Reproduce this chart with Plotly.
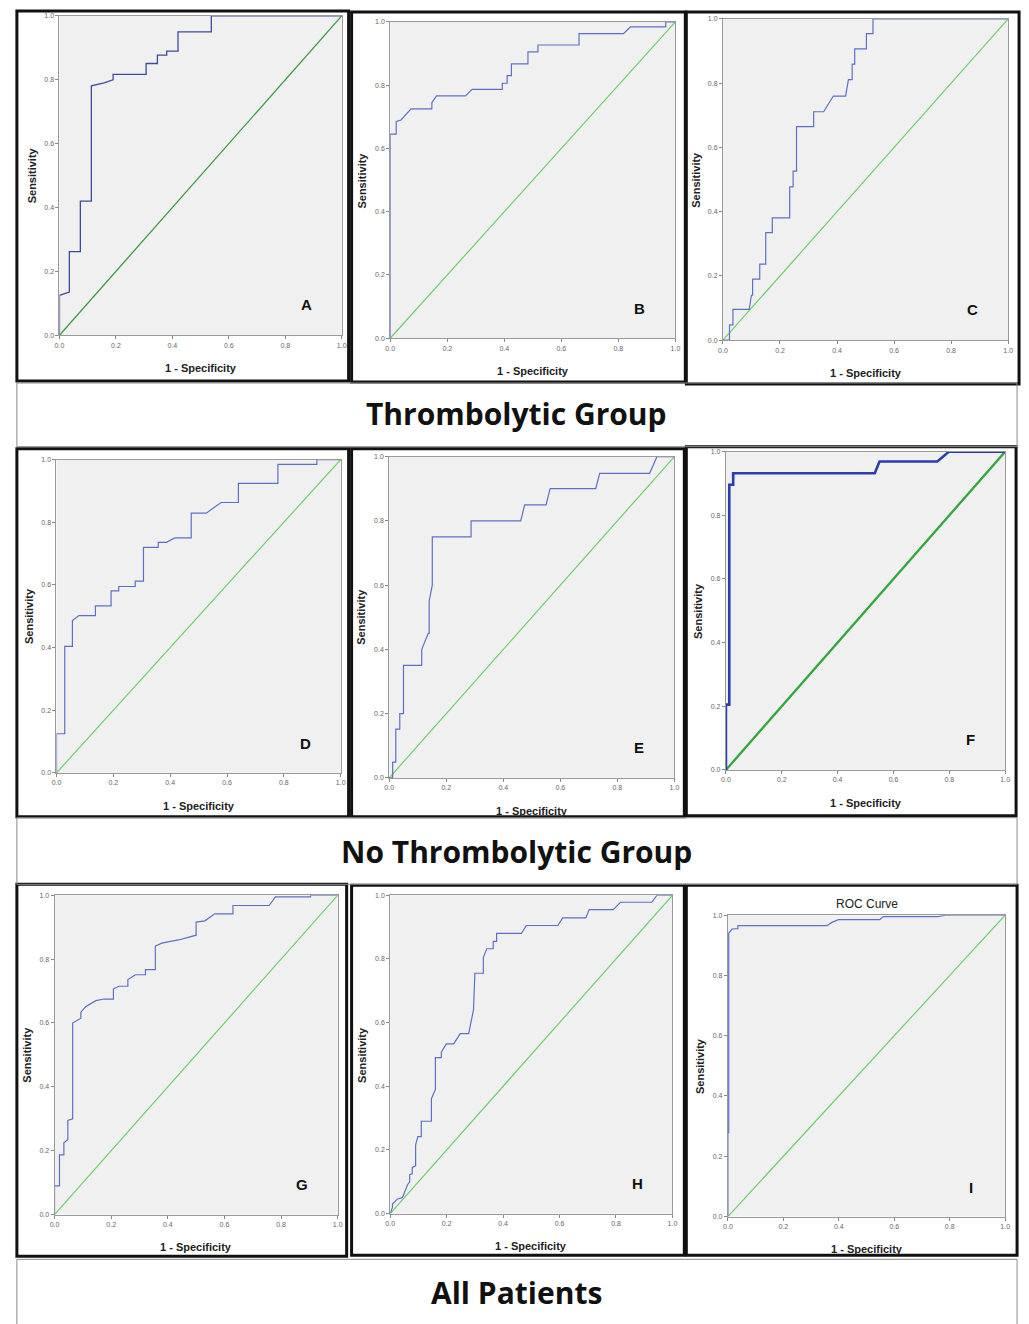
import plotly.graph_objects as go

W, H = 1029, 1324

panel_labels = ["A", "B", "C", "D", "E", "F", "G", "H", "I"]
group_titles = ["Thrombolytic Group", "No Thrombolytic Group", "All Patients"]
tick_vals = [0, 0.2, 0.4, 0.6, 0.8, 1.0]
tick_text = ["0.0", "0.2", "0.4", "0.6", "0.8", "1.0"]
ref_line = [0.0, 1.0]
x_title = "1 - Specificity"
y_title = "Sensitivity"
roc_title = "ROC Curve"

fpr_A = [0, 0, 0.035, 0.035, 0.074, 0.074, 0.113, 0.113, 0.158, 0.19, 0.19, 0.307, 0.307, 0.347, 0.347, 0.38, 0.38, 0.42, 0.42, 0.538, 0.538, 1.0]
tpr_A = [0, 0.125, 0.135, 0.262, 0.262, 0.42, 0.42, 0.781, 0.79, 0.80, 0.817, 0.817, 0.851, 0.851, 0.877, 0.877, 0.89, 0.89, 0.95, 0.95, 1.0, 1.0]

fpr_B = [0, 0, 0.021, 0.021, 0.038, 0.073, 0.146, 0.146, 0.162, 0.264, 0.287, 0.393, 0.393, 0.41, 0.41, 0.425, 0.425, 0.483, 0.483, 0.518, 0.518, 0.662, 0.662, 0.818, 0.842, 0.966, 0.966, 1.0]
tpr_B = [0, 0.645, 0.645, 0.685, 0.69, 0.725, 0.725, 0.745, 0.766, 0.766, 0.787, 0.787, 0.806, 0.806, 0.83, 0.83, 0.867, 0.867, 0.905, 0.905, 0.927, 0.927, 0.963, 0.963, 0.984, 0.984, 1.0, 1.0]

fpr_C = [0, 0.023, 0.023, 0.035, 0.035, 0.092, 0.1, 0.104, 0.104, 0.129, 0.129, 0.15, 0.15, 0.173, 0.173, 0.234, 0.234, 0.246, 0.246, 0.258, 0.258, 0.318, 0.318, 0.353, 0.387, 0.43, 0.44, 0.453, 0.453, 0.462, 0.462, 0.503, 0.503, 0.526, 0.526, 1.0]
tpr_C = [0, 0.0, 0.048, 0.048, 0.096, 0.096, 0.14, 0.14, 0.19, 0.19, 0.237, 0.237, 0.335, 0.335, 0.381, 0.381, 0.477, 0.477, 0.526, 0.526, 0.665, 0.665, 0.711, 0.711, 0.76, 0.76, 0.811, 0.811, 0.859, 0.859, 0.907, 0.907, 0.954, 0.954, 1.0, 1.0]

fpr_D = [0, 0, 0.029, 0.029, 0.056, 0.056, 0.079, 0.137, 0.137, 0.192, 0.192, 0.219, 0.219, 0.277, 0.277, 0.306, 0.306, 0.358, 0.358, 0.387, 0.416, 0.474, 0.474, 0.527, 0.579, 0.64, 0.64, 0.779, 0.779, 0.916, 0.916, 1.0]
tpr_D = [0, 0.125, 0.125, 0.404, 0.404, 0.486, 0.502, 0.502, 0.533, 0.533, 0.581, 0.581, 0.595, 0.595, 0.612, 0.612, 0.72, 0.72, 0.736, 0.736, 0.75, 0.75, 0.829, 0.829, 0.863, 0.863, 0.924, 0.924, 0.985, 0.985, 1.0, 1.0]

fpr_E = [0, 0.012, 0.012, 0.023, 0.023, 0.037, 0.037, 0.05, 0.05, 0.114, 0.114, 0.137, 0.14, 0.14, 0.151, 0.151, 0.287, 0.287, 0.461, 0.475, 0.55, 0.564, 0.724, 0.738, 0.913, 0.939, 1.0]
tpr_E = [0, 0.0, 0.049, 0.049, 0.152, 0.152, 0.2, 0.2, 0.35, 0.35, 0.40, 0.45, 0.45, 0.55, 0.60, 0.75, 0.75, 0.80, 0.80, 0.85, 0.85, 0.90, 0.90, 0.948, 0.948, 1.0, 1.0]

fpr_F = [0, 0, 0.012, 0.012, 0.026, 0.026, 0.533, 0.55, 0.757, 0.799, 1.0]
tpr_F = [0, 0.205, 0.205, 0.896, 0.896, 0.932, 0.932, 0.969, 0.969, 1.0, 1.0]

fpr_G = [0, 0, 0.0175, 0.0175, 0.033, 0.033, 0.047, 0.047, 0.064, 0.064, 0.093, 0.093, 0.111, 0.146, 0.175, 0.208, 0.208, 0.228, 0.259, 0.259, 0.286, 0.321, 0.321, 0.356, 0.356, 0.379, 0.405, 0.438, 0.50, 0.50, 0.531, 0.566, 0.63, 0.63, 0.758, 0.78, 0.904, 0.904, 1.0]
tpr_G = [0, 0.09, 0.09, 0.187, 0.187, 0.225, 0.235, 0.295, 0.30, 0.60, 0.615, 0.634, 0.652, 0.67, 0.675, 0.675, 0.707, 0.715, 0.715, 0.736, 0.751, 0.751, 0.767, 0.767, 0.841, 0.85, 0.855, 0.86, 0.875, 0.916, 0.92, 0.942, 0.942, 0.968, 0.968, 0.995, 0.995, 1.0, 1.0]

fpr_H = [0, 0.008, 0.008, 0.026, 0.043, 0.061, 0.069, 0.069, 0.078, 0.078, 0.09, 0.09, 0.098, 0.11, 0.11, 0.146, 0.146, 0.158, 0.16, 0.16, 0.181, 0.181, 0.199, 0.225, 0.248, 0.278, 0.295, 0.30, 0.33, 0.33, 0.342, 0.365, 0.365, 0.377, 0.377, 0.465, 0.482, 0.594, 0.611, 0.693, 0.705, 0.79, 0.816, 0.927, 0.945, 1.0]
tpr_H = [0, 0.02, 0.03, 0.046, 0.05, 0.09, 0.10, 0.122, 0.125, 0.145, 0.15, 0.216, 0.242, 0.242, 0.29, 0.29, 0.361, 0.39, 0.39, 0.49, 0.49, 0.507, 0.533, 0.533, 0.565, 0.565, 0.64, 0.755, 0.755, 0.804, 0.832, 0.832, 0.855, 0.855, 0.88, 0.88, 0.905, 0.905, 0.929, 0.929, 0.955, 0.955, 0.978, 0.978, 1.0, 1.0]

fpr_I = [0, 0, 0.003, 0.003, 0.015, 0.036, 0.036, 0.357, 0.375, 0.399, 0.548, 0.56, 0.756, 0.786, 1.0]
tpr_I = [0, 0.278, 0.278, 0.94, 0.954, 0.955, 0.965, 0.965, 0.976, 0.985, 0.985, 0.995, 0.995, 1.0, 1.0]

curves = [(fpr_A, tpr_A), (fpr_B, tpr_B), (fpr_C, tpr_C),
          (fpr_D, tpr_D), (fpr_E, tpr_E), (fpr_F, tpr_F),
          (fpr_G, tpr_G), (fpr_H, tpr_H), (fpr_I, tpr_I)]

# plot areas in pixels (left, top, right, bottom)
plot_px = [(55, 12, 340, 333), (389, 18, 677, 336), (725, 15, 1013, 338),
           (52, 458, 339, 773), (388, 455, 676, 778), (728, 450, 1010, 770),
           (50, 896, 336, 1217), (389, 896, 674, 1216), (730, 916, 1010, 1219)]
# outer black boxes
box_px = [(12, 7, 347, 379), (350, 8, 687, 380), (688, 8, 1024, 382),
          (12, 447, 347, 817), (350, 447, 686, 817), (688, 445, 1021, 816),
          (12, 885, 345, 1259), (350, 886, 686, 1258), (688, 886, 1022, 1258)]
band_px = [(12, 381, 1022, 445), (12, 818, 1022, 885), (12, 1262, 1022, 1340)]
band_text_y = [412, 852, 1295]

blue = "#5d70c6"
green = "#6ccf6c"
line_styles = {0: ("#3c4b9c", 1.3, "#3d9b45", 1.3), 5: ("#2a3db0", 2.6, "#2ea83a", 2.3)}

def px_x(v):
    return v / W

def px_y(v):
    return 1 - v / H

fig = go.Figure()
layout = {}
annotations = []
shapes = []

for i, (fx, ty) in enumerate(curves):
    n = "" if i == 0 else str(i + 1)
    xa, ya = "x" + n, "y" + n
    l, t, r, b = plot_px[i]
    bc, bw, gc, gw = line_styles.get(i, (blue, 1.2, green, 1.2))
    fig.add_trace(go.Scatter(x=ref_line, y=ref_line, mode="lines",
                             line=dict(color=gc, width=gw), xaxis=xa, yaxis=ya,
                             showlegend=False, hoverinfo="skip"))
    fig.add_trace(go.Scatter(x=fx, y=ty, mode="lines",
                             line=dict(color=bc, width=bw), xaxis=xa, yaxis=ya,
                             showlegend=False))
    common = dict(range=[0, 1], tickvals=tick_vals, ticktext=tick_text,
                  ticks="outside", ticklen=3, tickcolor="#888", tickwidth=1,
                  tickfont=dict(size=7, color="#666", family="Liberation Sans"),
                  showline=True, linecolor="#9a9a9a", linewidth=1, mirror=True,
                  showgrid=False, zeroline=False, fixedrange=True)
    layout["xaxis" + n] = dict(domain=[px_x(l), px_x(r)], anchor=ya, **common)
    layout["yaxis" + n] = dict(domain=[px_y(b), px_y(t)], anchor=xa, **common)
    annotations.append(dict(x=0.875, y=0.095, xref=xa, yref=ya, text="<b>%s</b>" % panel_labels[i],
                            showarrow=False, xanchor="center", yanchor="middle",
                            font=dict(size=15, color="#111", family="Liberation Sans")))
    annotations.append(dict(x=px_x((l + r) / 2), y=px_y(b + 33), xref="paper", yref="paper",
                            text="<b>%s</b>" % x_title, showarrow=False,
                            xanchor="center", yanchor="middle",
                            font=dict(size=11, color="#222", family="Liberation Sans")))
    annotations.append(dict(x=px_x(l - 28), y=px_y((t + b) / 2), xref="paper", yref="paper",
                            text="<b>%s</b>" % y_title, showarrow=False, textangle=-90,
                            xanchor="center", yanchor="middle",
                            font=dict(size=11, color="#222", family="Liberation Sans")))
    bl, bt, br, bb = box_px[i]
    shapes.append(dict(type="rect", xref="paper", yref="paper", x0=px_x(bl), x1=px_x(br),
                       y0=px_y(bb), y1=px_y(bt), line=dict(color="#111", width=3)))

annotations.append(dict(x=px_x(870), y=px_y(905), xref="paper", yref="paper", text=roc_title,
                        showarrow=False, xanchor="center", yanchor="middle",
                        font=dict(size=12, color="#222", family="Liberation Sans")))

for k, (l, t, r, b) in enumerate(band_px):
    shapes.append(dict(type="rect", xref="paper", yref="paper", x0=px_x(l), x1=px_x(r),
                       y0=px_y(b), y1=px_y(t), line=dict(color="#8a8a8a", width=1)))
    annotations.append(dict(x=px_x(517), y=px_y(band_text_y[k]), xref="paper", yref="paper",
                            text="<b>%s</b>" % group_titles[k], showarrow=False,
                            xanchor="center", yanchor="middle",
                            font=dict(size=30, color="#111", family="Open Sans")))

fig.update_layout(width=W, height=H, margin=dict(l=0, r=0, t=0, b=0),
                  paper_bgcolor="white", plot_bgcolor="#f0f0f0",
                  annotations=annotations, shapes=shapes, showlegend=False, **layout)

fig.write_html("out.html", config={"displayModeBar": False},
               post_script="document.body.style.margin='0';")
